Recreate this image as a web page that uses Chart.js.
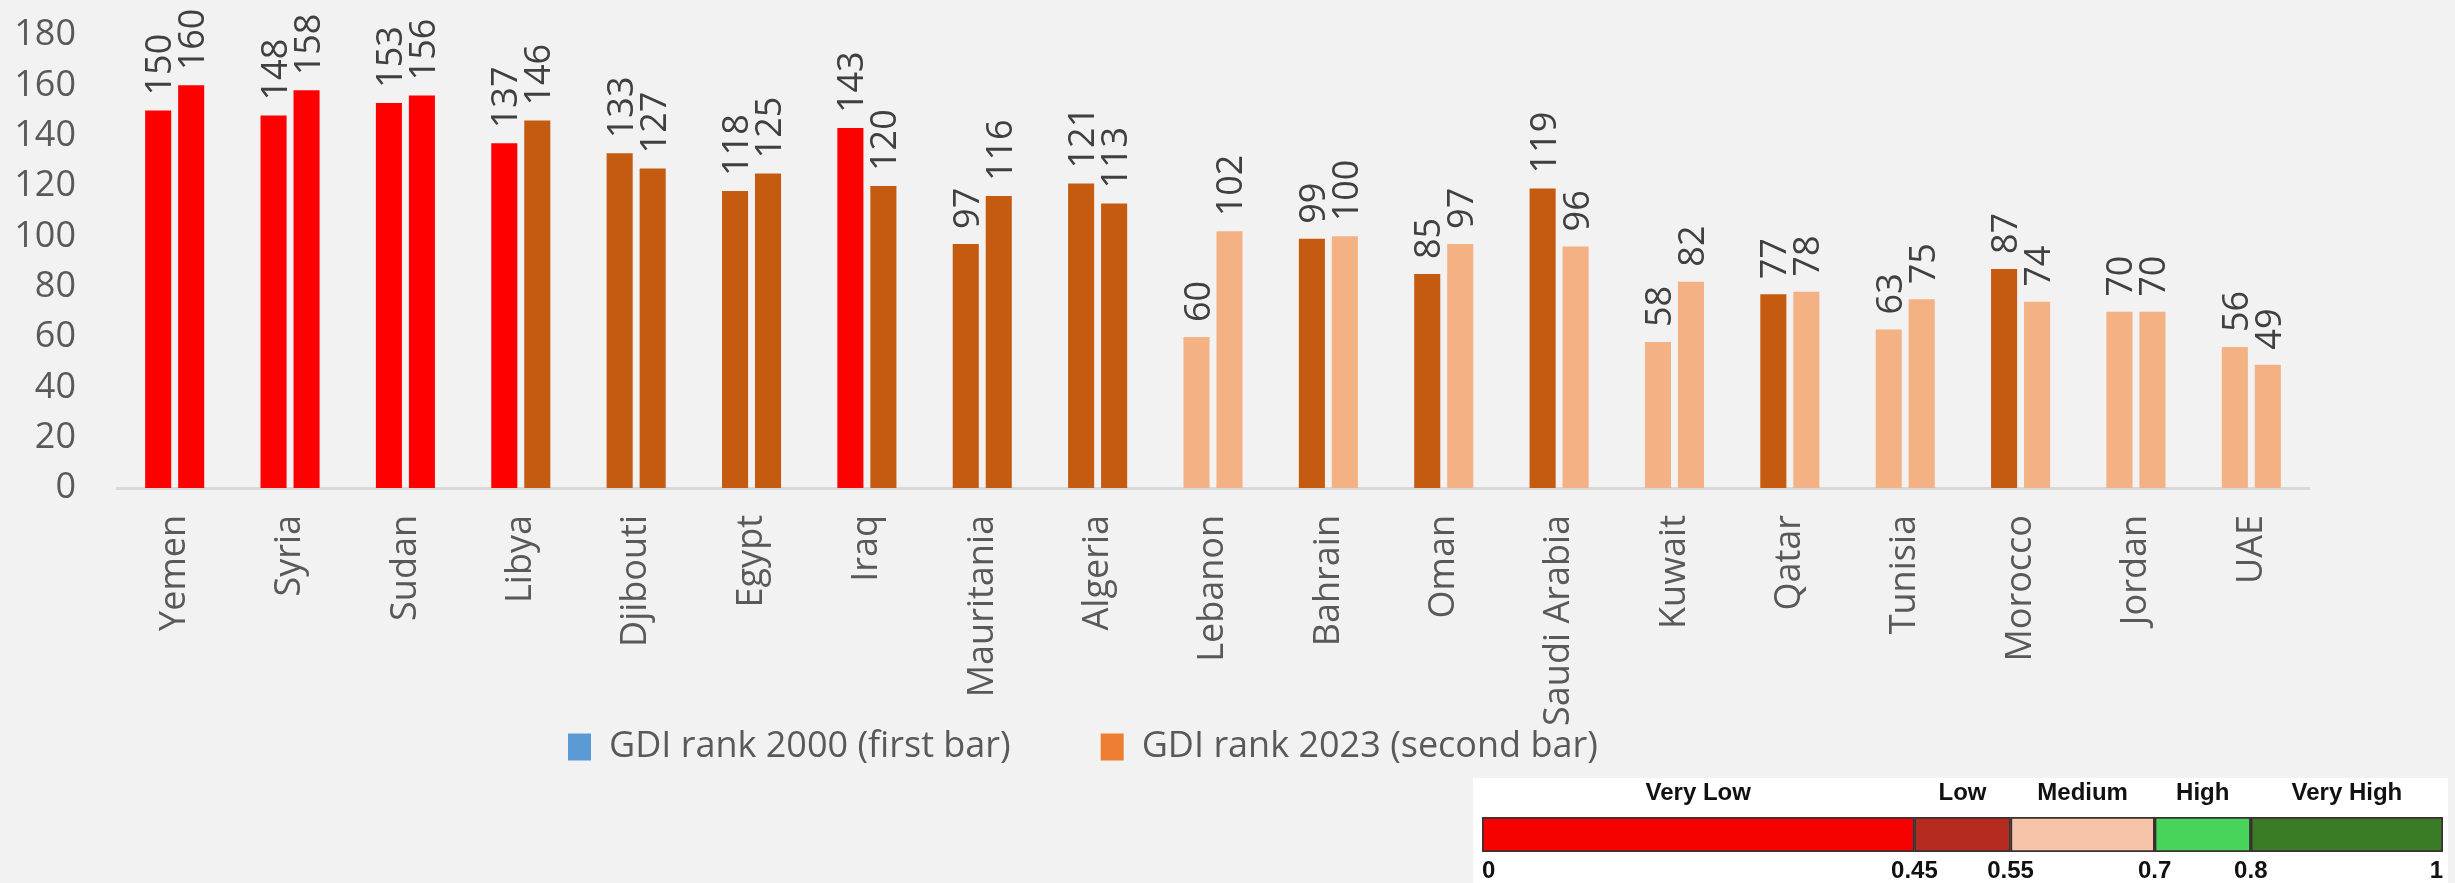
<!DOCTYPE html>
<html>
<head>
<meta charset="utf-8">
<title>GDI rank 2000 vs 2023</title>
<script src="https://cdn.jsdelivr.net/npm/chart.js@4.4.1/dist/chart.umd.min.js"></script>
<style>
body{margin:0;background:#F2F2F2;overflow:hidden;}
#gdiChart{position:absolute;left:0;top:0;}
#scaleChart{position:absolute;left:1473px;top:778px;background:#FFFFFF;}
</style>
</head>
<body>
<canvas id="gdiChart" width="2455" height="883"></canvas>
<canvas id="scaleChart" width="975" height="105"></canvas>
<script>
var countries = ['Yemen','Syria','Sudan','Libya','Djibouti','Egypt','Iraq','Mauritania','Algeria','Lebanon',
    'Bahrain','Oman','Saudi Arabia','Kuwait','Qatar','Tunisia','Morocco','Jordan','UAE'];
var rank2000 = [150,148,153,137,133,118,143,97,121,60,99,85,119,58,77,63,87,70,56];
var rank2023 = [160,158,156,146,127,125,120,116,113,102,100,97,96,82,78,75,74,70,49];
var tier2000 = ['Very Low','Very Low','Very Low','Very Low','Low','Low','Very Low','Low','Low','Medium',
    'Low','Low','Low','Medium','Low','Medium','Low','Medium','Medium'];
var tier2023 = ['Very Low','Very Low','Very Low','Low','Low','Low','Low','Low','Low','Medium',
    'Medium','Medium','Medium','Medium','Medium','Medium','Medium','Medium','Medium'];
var seriesNames = ['GDI rank 2000 (first bar)','GDI rank 2023 (second bar)'];
var yTicks = {min:0, max:180, step:20};

var scaleNames = ['Very Low','Low','Medium','High','Very High'];
var scaleBounds = [0,0.45,0.55,0.7,0.8,1];

var barColors = {'Very Low':'#FF0000','Low':'#C55A11','Medium':'#F4B183'};
var legendColors = ['#5B9BD5','#ED7D31'];
var scaleColors = ['#F70000','#B52B1F','#F6C4A9','#46D55A','#3A7B28'];
var axisGray = '#595959';

function tierToColor(list){
    return list.map(function(t){ return barColors[t]; });
}

var valueLabels = {
    id:'valueLabels',
    afterDatasetsDraw: function(chart){
        var ctx = chart.ctx;
        ctx.save();
        ctx.fillStyle = '#404040';
        ctx.font = '36px "Open Sans"';
        ctx.textAlign = 'left';
        ctx.textBaseline = 'alphabetic';
        chart.data.datasets.forEach(function(ds, i){
            chart.getDatasetMeta(i).data.forEach(function(bar, j){
                ctx.save();
                ctx.translate(bar.x + 13, bar.y - 15);
                ctx.rotate(-Math.PI/2);
                ctx.fillText(String(ds.data[j]), 0, 0);
                ctx.restore();
            });
        });
        ctx.restore();
    }
};

// legend sits left of centre and just under the labels in the original
var legendShift = {
    id:'legendShift',
    afterLayout: function(chart){
        var lg = chart.legend;
        if(!lg || !lg.lineWidths) return;
        var pad = lg.options.labels.padding;
        var cx = (lg.left + pad + lg.right - lg.lineWidths[0]) / 2;
        var dx = 568 - cx;
        var dy = 639 - lg.top;
        lg.left += dx;
        lg.right += dx;
        lg.top += dy;
        lg.bottom += dy;
    }
};

new Chart('gdiChart', {
    type:'bar',
    data:{
        labels:countries,
        datasets:[{
            label:seriesNames[0],
            data:rank2000,
            backgroundColor:tierToColor(tier2000),
            barPercentage:0.79,
            categoryPercentage:0.572
        },{
            label:seriesNames[1],
            data:rank2023,
            backgroundColor:tierToColor(tier2023),
            barPercentage:0.79,
            categoryPercentage:0.572
        }]
    },
    options:{
        responsive:false,
        animation:false,
        layout:{padding:{top:35,right:146,bottom:0,left:0}},
        plugins:{
            tooltip:{enabled:false},
            legend:{
                position:'bottom',
                labels:{
                    color:axisGray,
                    font:{family:'Open Sans',size:36},
                    boxWidth:23,
                    boxHeight:27,
                    padding:90,
                    generateLabels:function(chart){
                        return seriesNames.map(function(n, i){
                            return {text:n, fillStyle:legendColors[i], strokeStyle:legendColors[i],
                                lineWidth:0, hidden:false, datasetIndex:i, fontColor:axisGray};
                        });
                    }
                }
            }
        },
        scales:{
            x:{
                grid:{display:false,drawTicks:false},
                border:{display:true,color:'#D9D9D9',width:3},
                ticks:{
                    color:axisGray,
                    font:{family:'Open Sans',size:36},
                    minRotation:90,
                    maxRotation:90,
                    autoSkip:false,
                    padding:27
                },
                afterFit:function(s){ s.height = 259; }
            },
            y:{
                min:yTicks.min,
                max:yTicks.max,
                grid:{display:false,drawTicks:false},
                border:{display:false},
                ticks:{
                    stepSize:yTicks.step,
                    color:axisGray,
                    font:{family:'Open Sans',size:36},
                    padding:41
                },
                afterFit:function(s){
                    s.width = 117;
                    s.paddingTop = 0;
                    s.paddingBottom = 0;
                }
            }
        }
    },
    plugins:[valueLabels, legendShift]
});

var scaleNamesPlugin = {
    id:'scaleNames',
    afterDatasetsDraw: function(chart){
        var ctx = chart.ctx;
        var xs = chart.scales.x;
        ctx.save();
        ctx.fillStyle = '#111111';
        ctx.font = 'bold 24px "Liberation Sans"';
        ctx.textAlign = 'center';
        ctx.textBaseline = 'alphabetic';
        scaleNames.forEach(function(n, i){
            var mid = (xs.getPixelForValue(scaleBounds[i]) + xs.getPixelForValue(scaleBounds[i+1])) / 2;
            ctx.fillText(n, mid, chart.chartArea.top - 17);
        });
        ctx.restore();
    }
};

new Chart('scaleChart', {
    type:'bar',
    data:{
        labels:['GDI'],
        datasets:scaleNames.map(function(n, i){
            return {
                label:n,
                data:[[scaleBounds[i], scaleBounds[i+1]]],
                backgroundColor:scaleColors[i],
                borderColor:'#3A3030',
                borderWidth:2,
                borderSkipped:false,
                grouped:false,
                barPercentage:1,
                categoryPercentage:1
            };
        })
    },
    options:{
        indexAxis:'y',
        responsive:false,
        animation:false,
        layout:{padding:{top:39,right:5,left:9,bottom:0}},
        plugins:{legend:{display:false},tooltip:{enabled:false}},
        scales:{
            x:{
                min:0,
                max:1,
                grid:{display:false,drawTicks:false},
                border:{display:false},
                afterBuildTicks:function(s){
                    s.ticks = scaleBounds.map(function(v){ return {value:v}; });
                },
                ticks:{
                    align:'inner',
                    color:'#111111',
                    font:{family:'Liberation Sans',weight:'bold',size:24},
                    padding:5,
                    maxRotation:0,
                    autoSkip:false,
                    callback:function(v){ return String(v); }
                },
                afterFit:function(s){ s.height = 31; }
            },
            y:{display:false}
        }
    },
    plugins:[scaleNamesPlugin]
});
</script>
</body>
</html>
